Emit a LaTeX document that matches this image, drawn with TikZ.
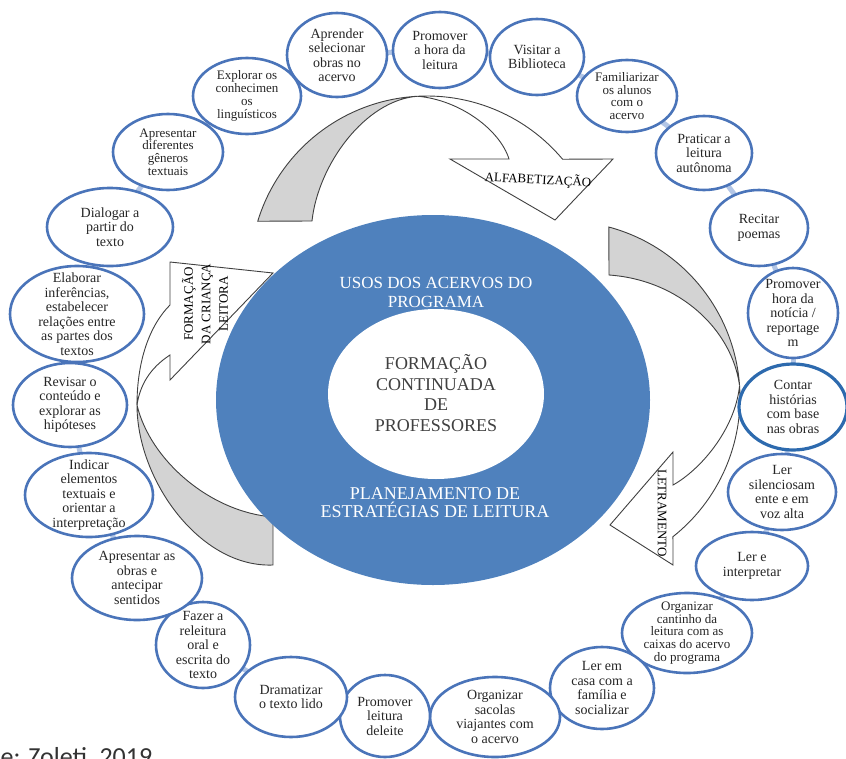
\documentclass[tikz,border=0pt]{standalone}
\usepackage{fontspec}
\setmainfont{Liberation Serif}
\newfontfamily\fontesans{Carlito}
\usetikzlibrary{shapes.geometric,backgrounds}
\definecolor{anel}{HTML}{4A74B9}
\definecolor{anelforte}{HTML}{2D6AAE}
\definecolor{miolo}{HTML}{4F81BD}
\definecolor{fundo}{HTML}{D3D3D3}
\definecolor{contorno}{HTML}{404040}
\definecolor{ligacao}{HTML}{B3C6E6}

\begin{document}
\begin{tikzpicture}[
  x=1pt,y=-1pt,
  acao/.style 2 args={ellipse,draw=anel,line width=2.6pt,fill=white,inner sep=0pt,
    minimum width=#1pt,minimum height=#2pt},
  rotulo/.style={align=center,text=black!85,font=\fontsize{14}{14.5}\selectfont},
  rotulop/.style={align=center,text=black!85,font=\fontsize{13}{12.8}\selectfont},
  fita/.style={fill=fundo,draw=contorno,line width=0.9pt},
  seta/.style={fill=white,draw=contorno,line width=0.9pt},
  elo/.style={draw=ligacao,line width=5pt}
]
\useasboundingbox (0,0) rectangle (846,758);

% seta de cima: alfabetizacao
\coordinate (cA) at (427,273);
\coordinate (tA) at ([shift={(267:177)}]cA);
\filldraw[fita] ([shift={(197:177)}]cA) arc[start angle=197,end angle=267,radius=177]
  .. controls (365,100) and (318,165) .. (312,221) -- cycle;
\filldraw[seta] (tA) arc[start angle=267,end angle=320,radius=177]
  -- (613,159) -- (555,220) -- (450,159) -- (509,159)
  .. controls (500,130) and (460,100) .. (tA) -- cycle;

% seta da direita: letramento
\coordinate (cB) at (563,398);
\coordinate (tB) at ([shift={(356:177)}]cB);
\filldraw[fita] ([shift={(285:177)}]cB) arc[start angle=285,end angle=356,radius=177]
  .. controls (732,330) and (680,280) .. (609,275) -- cycle;
\filldraw[seta] (tB) arc[start angle=356,end angle=411.6,radius=177]
  -- (673,565) -- (610,525) -- (673,452) -- (673,485)
  .. controls (700,470) and (735,430) .. (tB) -- cycle;

% seta da esquerda: formacao da crianca leitora
\coordinate (tC) at (137,405);
\filldraw[fita] (273,565) .. controls (200,568) and (137,480) .. (tC)
  .. controls (150,460) and (210,512) .. (273,517) -- cycle;
\filldraw[seta] (tC) .. controls (137,360) and (150,325) .. (170,305)
  -- (170,262) -- (273,273) -- (170,380) -- (170,355)
  .. controls (150,368) and (140,385) .. (tC) -- cycle;

\node[rotate=-3,font=\fontsize{13}{13}\selectfont] (alfa) at (538,180) {ALFABETIZAÇÃO};
\node[rotate=-90,font=\fontsize{13}{13}\selectfont] (letra) at (662,513) {LETRAMENTO};
\node[rotate=90,align=center,font=\fontsize{13}{17.5}\selectfont] (crianca) at (205,304)
  {FORMAÇÃO\\DA CRIANÇA\\LEITORA};

% centro
\node[ellipse,fill=miolo,minimum width=434pt,minimum height=370pt] (acervos) at (433,400) {};
\node[ellipse,fill=white,minimum width=216pt,minimum height=170pt] (professores) at (436,394) {};
\node[align=center,text=white,font=\fontsize{17}{19}\selectfont] (usos) at (436,292)
  {USOS DOS ACERVOS DO\\PROGRAMA};
\node[align=center,text=black!75,font=\fontsize{18}{20.5}\selectfont] (continuada) at (436,393)
  {FORMAÇÃO\\CONTINUADA\\DE\\PROFESSORES};
\node[align=center,text=white,font=\fontsize{18}{18}\selectfont] (estrategias) at (435,503)
  {PLANEJAMENTO DE\\ESTRATÉGIAS DE LEITURA};

% acoes em volta
\node[acao={94}{76},label={[rotulo]center:{Promover\\a hora da\\leitura}}] (horaleitura) at (440,50) {};
\node[acao={94}{76},label={[rotulo]center:{Visitar a\\Biblioteca}}] (biblioteca) at (537,57) {};
\node[acao={100}{72},label={[rotulop]center:{Familiarizar\\os alunos\\com o\\acervo}}] (familiarizar) at (627,96) {};
\node[acao={96}{74},label={[rotulo]center:{Praticar a\\leitura\\autônoma}}] (praticar) at (704,153) {};
\node[acao={98}{76},label={[rotulo]center:{Recitar\\poemas}}] (recitar) at (759,228) {};
\node[acao={90}{90},label={[rotulo]center:{Promover\\hora da\\notícia /\\reportage\\m}}] (noticia) at (793,313) {};
\node[acao={108}{86},draw=anelforte,line width=3.2pt,label={[rotulo]center:{Contar\\histórias\\com base\\nas obras}}] (contar) at (793,407) {};
\node[acao={108}{76},label={[rotulo]center:{Ler\\silenciosam\\ente e em\\voz alta}}] (silencio) at (782,492) {};
\node[acao={112}{68},label={[rotulo]center:{Ler e\\interpretar}}] (interpretar) at (752,566) {};
\node[acao={130}{80},label={[rotulop]center:{Organizar\\cantinho da\\leitura com as\\caixas do acervo\\do programa}}] (cantinho) at (687,633) {};
\node[acao={104}{82},label={[rotulo]center:{Ler em\\casa com a\\família e\\socializar}}] (casa) at (602,688) {};
\node[acao={130}{80},label={[rotulo]center:{Organizar\\sacolas\\viajantes com\\o acervo}}] (sacolas) at (495,717) {};
\node[acao={90}{82},label={[rotulo]center:{Promover\\leitura\\deleite}}] (deleite) at (385,716) {};
\node[acao={112}{80},label={[rotulo]center:{Dramatizar\\o texto lido}}] (dramatizar) at (291,697) {};
\node[acao={94}{86},label={[rotulo]center:{Fazer a\\releitura\\oral e\\escrita do\\texto}}] (releitura) at (203,645) {};
\node[acao={130}{84},label={[rotulo]center:{Apresentar as\\obras e\\antecipar\\sentidos}}] (antecipar) at (137,578) {};
\node[acao={128}{84},label={[rotulo]center:{Indicar\\elementos\\textuais e\\orientar a\\interpretação}}] (indicar) at (89,495) {};
\node[acao={114}{84},label={[rotulo]center:{Revisar o\\conteúdo e\\explorar as\\hipóteses}}] (revisar) at (70,405) {};
\node[acao={134}{96},label={[rotulo]center:{Elaborar\\inferências,\\estabelecer\\relações entre\\as partes dos\\textos}}] (inferencias) at (77,314) {};
\node[acao={126}{78},label={[rotulo]center:{Dialogar a\\partir do\\texto}}] (dialogar) at (110,227) {};
\node[acao={110}{76},label={[rotulop]center:{Apresentar\\diferentes\\gêneros\\textuais}}] (generos) at (168,152) {};
\node[acao={108}{76},label={[rotulop]center:{Explorar os\\conhecimen\\os\\linguísticos}}] (explorar) at (247,96) {};
\node[acao={100}{84},label={[rotulo]center:{Aprender\\selecionar\\obras no\\acervo}}] (selecionar) at (337,55) {};

% ligacoes entre as acoes
\begin{scope}[on background layer]
\foreach \a/\b in {selecionar/horaleitura,horaleitura/biblioteca,biblioteca/familiarizar,
  familiarizar/praticar,praticar/recitar,recitar/noticia,noticia/contar,contar/silencio,
  silencio/interpretar,interpretar/cantinho,cantinho/casa,casa/sacolas,sacolas/deleite,
  deleite/dramatizar,dramatizar/releitura,releitura/antecipar,antecipar/indicar,
  indicar/revisar,revisar/inferencias,inferencias/dialogar,dialogar/generos,
  generos/explorar,explorar/selecionar}
  \draw[elo] (\a.center) -- (\b.center);
\end{scope}

\node[anchor=base west,text=black!80,font=\fontesans\fontsize{26}{26}\selectfont] (fonte) at (-50,765)
  {Fonte: Zoleti, 2019};
\end{tikzpicture}
\end{document}
